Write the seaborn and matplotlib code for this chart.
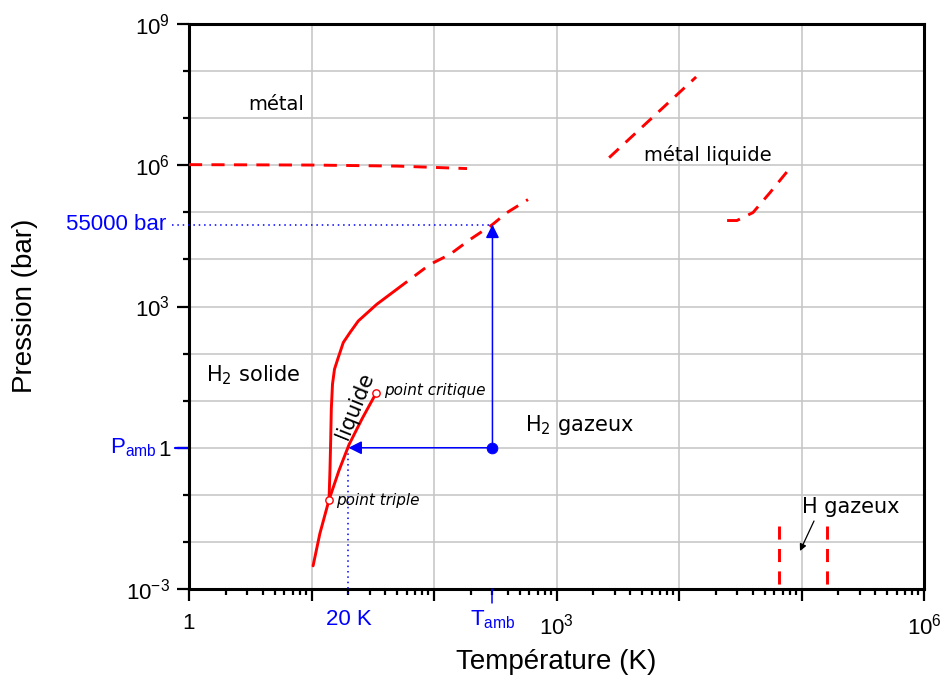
import matplotlib
matplotlib.use("Agg")
import matplotlib.pyplot as plt
import seaborn as sns
from matplotlib import font_manager
from matplotlib.ticker import FixedLocator, NullFormatter, LogLocator
from matplotlib.transforms import blended_transform_factory

# ---------------- data (T in K, P in bar) ----------------
sub_T = [10.3, 11.7, 13.9]
sub_P = [3.1e-3, 1.5e-2, 7.8e-2]
melt_T = [13.9, 14.16, 14.35, 14.51, 14.84, 15.41, 16.37, 18.18, 20.62, 24.1, 34.1, 49.6]
melt_P = [0.078, 0.356, 1.53, 6.64, 22.5, 46.7, 76.1, 172, 280, 493, 1114, 2312]
melt_ext_T = [49.6, 92.7, 135, 197, 300, 392, 585]
melt_ext_P = [2312, 7830, 12800, 26500, 55000, 97700, 186600]
vap_T = [13.9, 16.7, 20.2, 25.8, 33.7]
vap_P = [0.078, 0.32, 1.15, 4.07, 14.5]
metal_T = [1, 10, 50, 100, 186]
metal_P = [1.03e6, 1.01e6, 9.6e5, 9.0e5, 8.5e5]
metliq_T = [2690, 13800]
metliq_P = [1.45e6, 7.5e7]
metliq2_T = [24700, 29700, 40200, 55300, 76200]
metliq2_P = [6.7e4, 6.7e4, 9.9e4, 2.62e5, 7.3e5]
dissoc1_T = [65500, 65500]
dissoc2_T = [161400, 161400]
dissoc_P = [0.022, 1e-3]
special_T = [13.9, 33.7]      # triple point, critical point
special_P = [0.078, 14.5]
T_amb, P_amb = 300, 1
T_20, P_55 = 20, 55000

x_ticks = [1, 10, 100, 1e3, 1e4, 1e5, 1e6]
x_labels = ["1", "", "", r"$\mathregular{10^3}$", "", "", r"$\mathregular{10^6}$"]
y_ticks = [1e-3, 1, 1e3, 1e6, 1e9]
y_labels = [r"$\mathregular{10^{-3}}$", "1", r"$\mathregular{10^3}$",
            r"$\mathregular{10^6}$", r"$\mathregular{10^9}$"]
y_minor = [1e-2, 1e-1, 10, 100, 1e4, 1e5, 1e7, 1e8]

# ---------------- style ----------------
sns.set_theme(style="white")
names = {f.name for f in font_manager.fontManager.ttflist}
main_font = "Liberation Sans" if "Liberation Sans" in names else "DejaVu Sans"
plt.rcParams["font.family"] = [main_font, "DejaVu Sans"]
plt.rcParams["text.color"] = "black"
plt.rcParams["axes.labelcolor"] = "black"
plt.rcParams["xtick.color"] = "black"
plt.rcParams["ytick.color"] = "black"
comic = ["DejaVu Sans"]

W, H = 946, 680
fig = plt.figure(figsize=(W / 100, H / 100), dpi=100)
L, R, T, B = 189, 924, 24, 589
ax = fig.add_axes([L / W, 1 - B / H, (R - L) / W, (B - T) / H])
ax.set_xscale("log")
ax.set_yscale("log")
ax.set_xlim(1, 1e6)
ax.set_ylim(1e-3, 1e9)


def px(x, y):
    return x / W, 1 - y / H


RED = "#ff0000"
BLUE = "#0000ff"
dash = (0, (4.5, 3.2))


def line(Tv, Pv, ls="-", **kw):
    sns.lineplot(x=Tv, y=Pv, ax=ax, color=RED, lw=2.1, sort=False,
                 estimator=None, linestyle=ls, zorder=4, **kw)


line(sub_T, sub_P)
line(melt_T, melt_P)
line(vap_T, vap_P)
line(melt_ext_T, melt_ext_P, dash)
line(metal_T, metal_P, dash)
line(metliq_T, metliq_P, dash)
line(metliq2_T, metliq2_P, dash)
line(dissoc1_T, dissoc_P, dash)
line(dissoc2_T, dissoc_P, dash)

sns.scatterplot(x=special_T, y=special_P, ax=ax, color="white",
                edgecolor=RED, linewidth=1, s=28, zorder=6)
sns.scatterplot(x=[T_amb], y=[P_amb], ax=ax, color=BLUE, edgecolor=BLUE,
                s=60, zorder=7)

# blue arrows
ax.annotate("", xy=(T_20, P_amb), xytext=(T_amb, P_amb),
            arrowprops=dict(arrowstyle="-|>", color=BLUE, lw=1.1,
                            mutation_scale=20, shrinkA=0, shrinkB=0), zorder=6)
ax.annotate("", xy=(T_amb, P_55), xytext=(T_amb, P_amb),
            arrowprops=dict(arrowstyle="-|>", color=BLUE, lw=1.1,
                            mutation_scale=20, shrinkA=0, shrinkB=0), zorder=6)

# blue dotted guides
xl = ax.get_xlim()[0]
yl = ax.get_ylim()[0]
ax.plot([xl * 10 ** -0.14, T_amb], [P_55, P_55], color=BLUE, lw=1.1,
        ls=(0, (1, 2.5)), clip_on=False, zorder=3)
ax.plot([T_20, T_20], [P_amb, yl * 10 ** -0.17], color=BLUE, lw=1.1,
        ls=(0, (1, 2.5)), clip_on=False, zorder=3)
# blue ticks
ax.plot([T_amb, T_amb], [yl, yl * 10 ** -0.3], color=BLUE, lw=1.1,
        clip_on=False, zorder=3)
ax.plot([xl * 10 ** -0.115, xl], [P_amb, P_amb], color=BLUE, lw=1.6,
        clip_on=False, zorder=1)

# black arrow for H gazeux
ax.annotate("", xy=px(800, 551), xycoords="figure fraction",
            xytext=px(814, 521), textcoords="figure fraction",
            arrowprops=dict(arrowstyle="-|>", color="black", lw=0.9,
                            mutation_scale=10, shrinkA=0, shrinkB=0))

# ---------------- axes cosmetics ----------------
ax.set_xticks(x_ticks)
ax.set_xticklabels(x_labels)
ax.xaxis.set_minor_locator(LogLocator(base=10, subs=range(2, 10), numticks=20))
ax.xaxis.set_minor_formatter(NullFormatter())
ax.set_yticks(y_ticks)
ax.set_yticklabels(y_labels)
ax.yaxis.set_minor_locator(FixedLocator(y_minor))
ax.yaxis.set_minor_formatter(NullFormatter())

ax.grid(False)
ax.xaxis.grid(True, which="major", color="#c4c4c4", lw=1.1)
ax.yaxis.grid(True, which="both", color="#c4c4c4", lw=1.1)
ax.set_axisbelow(True)

ax.tick_params(which="both", direction="out", bottom=True, left=True,
               top=False, right=False, colors="black", width=1.6)
ax.tick_params(which="major", length=8.5, labelsize=16)
ax.tick_params(which="minor", length=4.5)
ax.tick_params(axis="x", which="major", pad=9)
ax.tick_params(axis="y", which="major", pad=5)
for s in ax.spines.values():
    s.set_visible(True)
    s.set_color("black")
    s.set_linewidth(2.2)

# blue tick-like labels
tx = blended_transform_factory(ax.transData, ax.transAxes)
ax.text(T_20, -0.035, "20 K", transform=tx, color=BLUE, fontsize=16,
        ha="center", va="top")
ax.text(T_amb, -0.035, r"$\mathregular{T_{amb}}$", transform=tx, color=BLUE,
        fontsize=16, ha="center", va="top")
ty = blended_transform_factory(ax.transAxes, ax.transData)
ax.text(-0.044, P_amb, r"$\mathregular{P_{amb}}$", transform=ty, color=BLUE,
        fontsize=16, ha="right", va="center")
ax.text(-0.031, P_55, "55000 bar", transform=ty, color=BLUE, fontsize=16,
        ha="right", va="center")

# axis titles
fig.text(*px(556, 662), "Température (K)", fontsize=20, ha="center", va="center")
fig.text(*px(25, 306), "Pression (bar)", fontsize=20, ha="center", va="center",
         rotation=90)

# region labels
fig.text(*px(276, 104), "métal", family=comic, fontsize=14, ha="center", va="center")
fig.text(*px(708, 155), "métal liquide", family=comic, fontsize=14, ha="center", va="center")
fig.text(*px(253, 375), r"$\mathregular{H_2}$ solide", family=comic, fontsize=15,
         ha="center", va="center")
fig.text(*px(580, 425), r"$\mathregular{H_2}$ gazeux", family=comic, fontsize=15,
         ha="center", va="center")
fig.text(*px(851, 507), "H gazeux", family=comic, fontsize=15, ha="center", va="center")
fig.text(*px(355, 406), "liquide", family=comic, fontsize=15, ha="center",
         va="center", rotation=68)
fig.text(*px(384, 390), "point critique", family=comic, fontsize=11,
         style="italic", ha="left", va="center")
fig.text(*px(336, 501), "point triple", family=comic, fontsize=11,
         style="italic", ha="left", va="center")

fig.savefig("out.png", dpi=100, facecolor="white")
